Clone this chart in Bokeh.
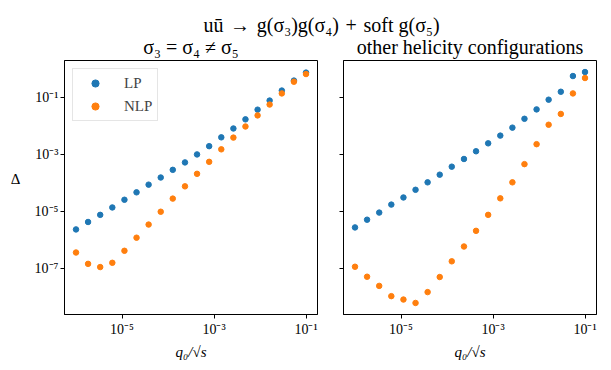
import numpy as np
from bokeh.plotting import figure
from bokeh.layouts import row, column
from bokeh.models import Range1d, FixedTicker, CustomJSTickFormatter, Label
from bokeh.embed import file_html
from bokeh.resources import INLINE

# ---------------- data ----------------
q0 = [1.00e-6, 1.83e-6, 3.36e-6, 6.16e-6, 1.13e-5, 2.07e-5, 3.79e-5, 6.95e-5,
      1.27e-4, 2.34e-4, 4.28e-4, 7.85e-4, 1.44e-3, 2.64e-3, 4.83e-3, 8.86e-3,
      1.62e-2, 2.98e-2, 5.46e-2, 1.00e-1]

left_lp = [2.34e-6, 4.27e-6, 7.59e-6, 1.38e-5, 2.57e-5, 4.68e-5, 8.71e-5, 1.55e-4,
           2.88e-4, 5.25e-4, 1.00e-3, 1.95e-3, 3.98e-3, 8.13e-3, 1.70e-2, 3.72e-2,
           7.76e-2, 0.174, 0.389, 0.741]
left_nlp = [3.63e-7, 1.45e-7, 1.12e-7, 1.58e-7, 4.17e-7, 1.20e-6, 3.47e-6, 9.77e-6,
            2.82e-5, 7.59e-5, 2.09e-4, 5.50e-4, 1.51e-3, 3.89e-3, 9.55e-3, 2.34e-2,
            5.62e-2, 0.138, 0.355, 0.661]
right_lp = [2.75e-6, 5.13e-6, 9.12e-6, 1.74e-5, 3.09e-5, 5.75e-5, 1.05e-4, 1.95e-4,
            3.72e-4, 6.92e-4, 1.29e-3, 2.45e-3, 4.57e-3, 8.71e-3, 1.78e-2, 3.80e-2,
            8.32e-2, 0.158, 0.562, 0.776]
right_nlp = [1.15e-7, 5.13e-8, 2.45e-8, 1.07e-8, 8.13e-9, 6.17e-9, 1.48e-8, 5.01e-8,
             1.78e-7, 5.89e-7, 2.09e-6, 7.59e-6, 2.88e-5, 1.05e-4, 4.57e-4, 2.29e-3,
             1.10e-2, 2.63e-2, 0.138, 0.479]

x_ticks = [1e-5, 1e-3, 1e-1]
y_ticks = [1e-7, 1e-5, 1e-3, 1e-1]
series_names = ["LP", "NLP"]
suptitle = "uū\u2004→\u2004g(σ₃)g(σ₄)\u2004+\u2004soft g(σ₅)"
panel_titles = ["σ₃ = σ₄ ≠ σ₅", "other helicity configurations"]
x_label = "q₀/√s"
y_label = "Δ"

# ---------------- style / layout ----------------
FONT = "Liberation Serif"
COLORS = ["#1f77b4", "#ff7f0e"]
TITLE_SIZE = "20px"
TICK_SIZE = "14px"
TOTAL_W = 603
HEAD_H = 59
YLAB_W = 22
FRAME_W, FRAME_H = 253, 254
BORDER_TOP, BORDER_BOTTOM = 1, 48
YLAB_POS = 10 ** -3.85   # vertical placement of the Δ label (axis units)

SUP_CODE = """
const sup = {'-':'\u207b','0':'\u2070','1':'\u00b9','2':'\u00b2','3':'\u00b3',
             '4':'\u2074','5':'\u2075','6':'\u2076','7':'\u2077','8':'\u2078','9':'\u2079'};
const e = Math.round(Math.log10(tick));
return '10' + String(e).split('').map(c => sup[c]).join('');
"""


def log_range(vals, pad=0.05):
    lo = np.log10(min(vals))
    hi = np.log10(max(vals))
    m = (hi - lo) * pad
    return Range1d(10 ** (lo - m), 10 ** (hi + m))


x_range = log_range(q0)
y_range = log_range(left_lp + left_nlp + right_lp + right_nlp)


def style_axis(ax):
    ax.axis_line_color = "black"
    ax.major_tick_line_color = "black"
    ax.major_tick_in = 0
    ax.major_tick_out = 4
    ax.minor_tick_in = 0
    ax.minor_tick_out = 0
    ax.major_label_text_font = FONT
    ax.major_label_text_font_size = TICK_SIZE
    ax.major_label_text_color = "black"
    ax.axis_label_text_font = FONT
    ax.axis_label_text_font_size = "15px"
    ax.axis_label_text_color = "black"


def make_panel(lp, nlp, left_border, right_border, with_labels):
    p = figure(frame_width=FRAME_W, frame_height=FRAME_H,
               x_axis_type="log", y_axis_type="log",
               x_range=x_range, y_range=y_range,
               toolbar_location=None, output_backend="svg",
               min_border_left=left_border, min_border_right=right_border,
               min_border_top=BORDER_TOP, min_border_bottom=BORDER_BOTTOM)
    p.grid.visible = False
    p.outline_line_color = "black"
    p.outline_line_alpha = 1.0
    p.outline_line_width = 1

    for ax in (p.xaxis[0], p.yaxis[0]):
        style_axis(ax)
    p.xaxis.ticker = FixedTicker(ticks=x_ticks, minor_ticks=[])
    p.yaxis.ticker = FixedTicker(ticks=y_ticks, minor_ticks=[])
    p.xaxis.formatter = CustomJSTickFormatter(code=SUP_CODE)
    p.xaxis.major_label_standoff = 3
    p.xaxis.axis_label = x_label
    p.xaxis.axis_label_text_font_style = "italic"
    p.xaxis.axis_label_standoff = 4
    if with_labels:
        p.yaxis.formatter = CustomJSTickFormatter(code=SUP_CODE)
        p.yaxis.major_label_standoff = 2
    else:
        p.yaxis.formatter = CustomJSTickFormatter(code="return '';")
        p.yaxis.major_label_standoff = 0

    for vals, name, col in zip((lp, nlp), series_names, COLORS):
        kw = dict(legend_label=name) if with_labels else {}
        p.scatter(q0, vals, size=5.5, fill_color=col, line_color=col, **kw)

    if with_labels:
        lg = p.legend[0]
        lg.location = "top_left"
        lg.margin = 8
        lg.padding = 5
        lg.spacing = 5
        lg.glyph_width = 34
        lg.glyph_height = 18
        lg.label_height = 18
        lg.label_standoff = 12
        lg.label_text_font = FONT
        lg.label_text_font_size = "15px"
        lg.border_line_color = "#cccccc"
        lg.border_line_width = 1
        lg.background_fill_alpha = 0.8
    return p


P1_LEFT, P1_RIGHT = 42, 11
P2_LEFT, P2_RIGHT = 15, 7
p1 = make_panel(left_lp, left_nlp, P1_LEFT, P1_RIGHT, True)
p2 = make_panel(right_lp, right_nlp, P2_LEFT, P2_RIGHT, False)

# frame centres (canvas x) for titles
c1 = YLAB_W + P1_LEFT + FRAME_W / 2
c2 = YLAB_W + P1_LEFT + FRAME_W + P1_RIGHT + P2_LEFT + FRAME_W / 2

head = figure(width=TOTAL_W, height=HEAD_H, x_range=Range1d(0, TOTAL_W),
              y_range=Range1d(0, HEAD_H), toolbar_location=None,
              output_backend="svg", x_axis_location=None, y_axis_location=None,
              min_border=0, outline_line_color=None)
head.grid.visible = False
head.add_layout(Label(x=321, y=HEAD_H - 24.5, text=suptitle, text_font=FONT,
                      text_font_size=TITLE_SIZE, text_align="center",
                      text_baseline="alphabetic", text_color="black"))
for cx, t in zip((c1, c2), panel_titles):
    head.add_layout(Label(x=cx, y=HEAD_H - 46, text=t, text_font=FONT,
                          text_font_size=TITLE_SIZE, text_align="center",
                          text_baseline="alphabetic", text_color="black"))

# narrow strip holding the horizontal y-axis label, sharing the panels' y-scale
ylab = figure(frame_width=YLAB_W, frame_height=FRAME_H, x_range=Range1d(0, YLAB_W),
              y_axis_type="log", y_range=y_range, toolbar_location=None,
              output_backend="svg", x_axis_location=None, y_axis_location=None,
              min_border_left=0, min_border_right=0,
              min_border_top=BORDER_TOP, min_border_bottom=BORDER_BOTTOM,
              outline_line_color=None)
ylab.grid.visible = False
ylab.add_layout(Label(x=15, y=YLAB_POS, text=y_label, text_font=FONT,
                      text_font_size="15px", text_align="center",
                      text_baseline="middle", text_color="black"))

layout = column(head, row(ylab, p1, p2))

with open("out.html", "w", encoding="utf-8") as f:
    f.write(file_html(layout, INLINE))
